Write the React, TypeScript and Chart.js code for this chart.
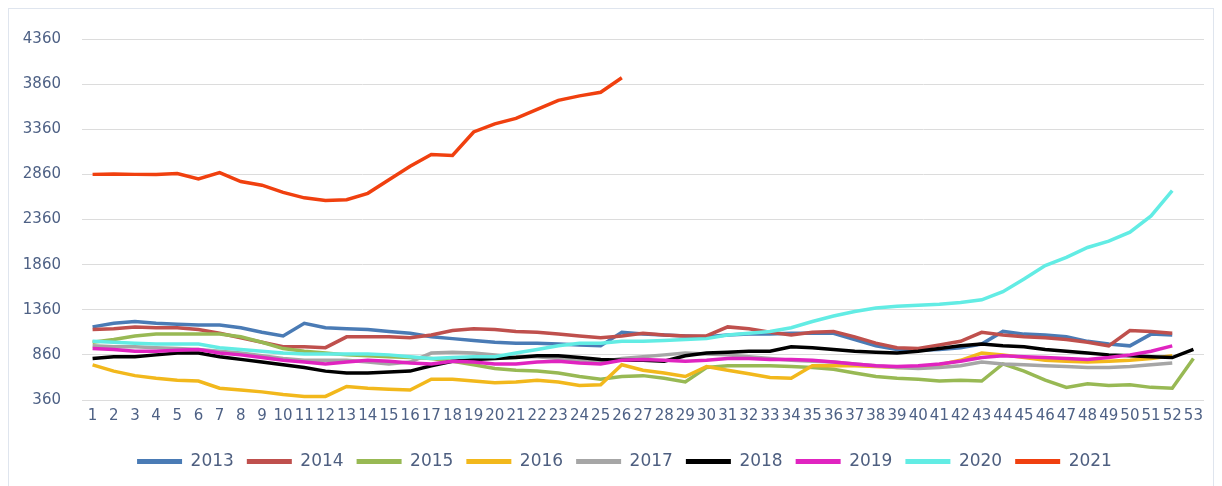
import React, { useEffect, useRef } from "react";
import { Chart, registerables } from "chart.js";

Chart.register(...registerables);

const weeks: string[] = Array.from({ length: 53 }, (_, i) => String(i + 1));

const yearLabels = ["2013", "2014", "2015", "2016", "2017", "2018", "2019", "2020", "2021"];
const yearColors = ["#4a7bb5", "#bf504d", "#98b954", "#f2b81c", "#a6a6a6", "#000000", "#e024c0", "#62ece4", "#f0400f"];

const y2013 = [1170, 1210, 1230, 1210, 1200, 1190, 1190, 1160, 1110, 1070, 1210, 1160, 1150, 1140, 1120, 1100, 1060, 1040, 1020, 1000, 990, 990, 980, 970, 960, 1110, 1090, 1080, 1070, 1060, 1080, 1090, 1090, 1100, 1100, 1100, 1030, 960, 920, 910, 920, 940, 980, 1120, 1090, 1080, 1060, 1010, 980, 960, 1090, 1080];
const y2014 = [1140, 1150, 1170, 1160, 1160, 1140, 1100, 1050, 1000, 950, 950, 940, 1060, 1060, 1060, 1050, 1080, 1130, 1150, 1140, 1120, 1110, 1090, 1070, 1050, 1070, 1100, 1080, 1070, 1070, 1170, 1150, 1110, 1080, 1110, 1120, 1060, 990, 940, 930, 970, 1010, 1110, 1080, 1060, 1050, 1030, 1000, 960, 1130, 1120, 1100];
const y2015 = [1000, 1030, 1070, 1090, 1090, 1090, 1090, 1060, 1000, 930, 900, 880, 860, 850, 840, 830, 820, 790, 750, 710, 690, 680, 660, 620, 590, 620, 630, 600, 560, 720, 740, 740, 740, 730, 720, 700, 660, 620, 600, 590, 570, 580, 570, 760, 680, 580, 500, 540, 520, 530, 500, 490, 820];
const y2016 = [750, 680, 630, 600, 580, 570, 490, 470, 450, 420, 400, 400, 510, 490, 480, 470, 590, 590, 570, 550, 560, 580, 560, 520, 530, 750, 690, 660, 620, 730, 690, 650, 610, 600, 740, 740, 740, 730, 720, 720, 750, 800, 880, 860, 830, 800, 790, 780, 790, 800, 820, 850];
const y2017 = [960, 950, 950, 940, 930, 920, 900, 880, 850, 820, 800, 800, 800, 780, 760, 780, 880, 890, 880, 860, 840, 840, 820, 800, 780, 820, 840, 860, 880, 870, 860, 840, 820, 800, 790, 780, 760, 740, 720, 710, 720, 740, 780, 760, 750, 740, 730, 720, 720, 730, 750, 770];
const y2018 = [820, 840, 840, 860, 880, 880, 840, 810, 780, 750, 720, 680, 660, 660, 670, 680, 740, 790, 810, 820, 830, 850, 850, 830, 810, 800, 800, 790, 850, 880, 890, 900, 900, 950, 940, 920, 900, 890, 880, 900, 930, 960, 980, 960, 950, 920, 900, 880, 860, 850, 840, 830, 920];
const y2019 = [930, 920, 900, 900, 910, 920, 880, 860, 830, 800, 780, 760, 780, 800, 790, 770, 760, 790, 780, 760, 760, 780, 790, 770, 760, 800, 810, 800, 790, 800, 820, 820, 810, 810, 800, 780, 760, 740, 730, 740, 760, 790, 830, 850, 840, 830, 820, 810, 830, 860, 900, 960];
const y2020 = [1010, 1000, 990, 980, 980, 980, 940, 920, 900, 880, 870, 870, 870, 870, 860, 840, 820, 830, 840, 840, 880, 920, 960, 990, 990, 1010, 1010, 1020, 1030, 1040, 1080, 1100, 1120, 1160, 1230, 1290, 1340, 1380, 1400, 1410, 1420, 1440, 1470, 1560, 1700, 1850, 1940, 2050, 2120, 2220, 2400, 2680];
const y2021 = [2860, 2865, 2860, 2860, 2870, 2810, 2880, 2780, 2740, 2660, 2600, 2570, 2580, 2650, 2800, 2950, 3080, 3070, 3330, 3420, 3480, 3580, 3680, 3730, 3770, 3930];

const series = [y2013, y2014, y2015, y2016, y2017, y2018, y2019, y2020, y2021];

const yMin = 360;
const yMax = 4360;
const yStep = 500;

const FONT = "'DejaVu Sans', sans-serif";
const TICK_COLOR = "#4e6185";

const legendShift = {
  id: "legendShift",
  afterLayout(chart: any) {
    if (chart.legend) {
      chart.legend.left += 18;
      chart.legend.right += 18;
    }
  },
};

export default function App() {
  const ref = useRef<HTMLCanvasElement | null>(null);

  useEffect(() => {
    if (!ref.current) return;
    const chart = new Chart(ref.current, {
      type: "line",
      data: {
        labels: weeks,
        datasets: series.map((d, i) => ({
          label: yearLabels[i],
          data: d,
          borderColor: yearColors[i],
          backgroundColor: yearColors[i],
          borderWidth: 3.5,
          pointRadius: 0,
          tension: 0,
          fill: false,
          order: 20 - i,
        })),
      },
      plugins: [legendShift],
      options: {
        animation: false,
        responsive: true,
        maintainAspectRatio: false,
        layout: { padding: { left: 0, right: 9, top: 26, bottom: 7 } },
        plugins: {
          tooltip: { enabled: false },
          legend: {
            position: "bottom",
            labels: {
              font: { family: FONT, size: 17 },
              color: "#4e5f80",
              boxWidth: 45,
              boxHeight: 5,
              padding: 13,
              generateLabels: (c: any) =>
                c.data.datasets.map((ds: any, i: number) => ({
                  text: ds.label,
                  fillStyle: ds.borderColor,
                  strokeStyle: ds.borderColor,
                  lineWidth: 0,
                  hidden: false,
                  datasetIndex: i,
                  fontColor: "#4e5f80",
                })),
            },
          },
        },
        scales: {
          x: {
            offset: true,
            afterFit: (s: any) => {
              s.height = 40;
            },
            grid: { display: false, drawTicks: false },
            border: { display: false },
            ticks: {
              autoSkip: false,
              maxRotation: 0,
              minRotation: 0,
              padding: 7,
              color: TICK_COLOR,
              font: { family: FONT, size: 15 },
            },
          },
          y: {
            min: yMin,
            max: yMax,
            afterFit: (s: any) => {
              s.width = 73;
            },
            grid: { color: "#dcdcdc", lineWidth: 1, drawTicks: false },
            border: { display: false },
            ticks: {
              stepSize: yStep,
              padding: 21,
              color: TICK_COLOR,
              font: { family: FONT, size: 15 },
              callback: (v: any) => String(v),
            },
          },
        },
      },
    });
    return () => chart.destroy();
  }, []);

  return (
    <div
      style={{
        width: 1206,
        height: 480,
        border: "1px solid #dfe5ee",
        boxSizing: "border-box",
        position: "relative",
        background: "#ffffff",
      }}
    >
      <canvas ref={ref} />
    </div>
  );
}
